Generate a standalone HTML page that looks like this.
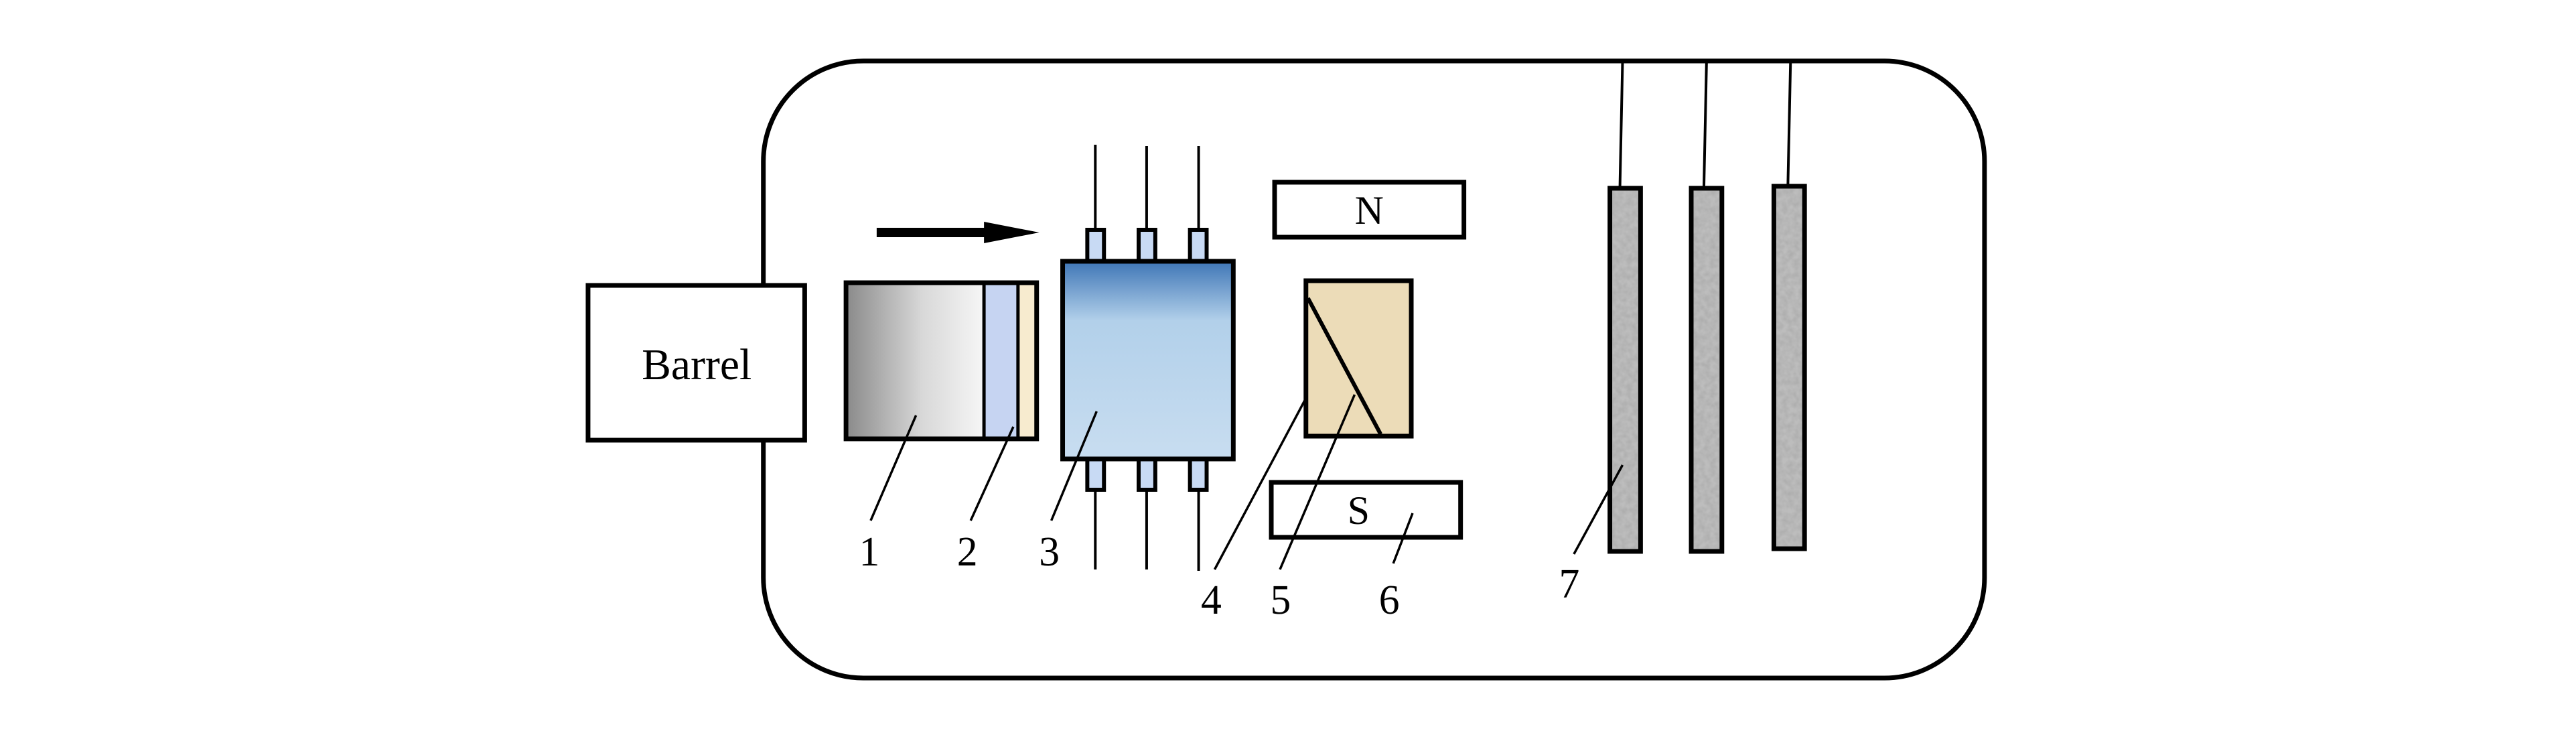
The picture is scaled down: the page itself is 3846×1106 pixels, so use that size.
<!DOCTYPE html>
<html><head><meta charset="utf-8"><style>html,body{margin:0;padding:0;background:#fff}svg{display:block}</style></head><body>
<svg width="3846" height="1106" viewBox="0 0 3846 1106" xmlns="http://www.w3.org/2000/svg">
<defs>
<linearGradient id="g1" x1="0" x2="1" y1="0" y2="0"><stop offset="0" stop-color="#8a8a8a"/><stop offset="0.55" stop-color="#d8d8d8"/><stop offset="1" stop-color="#f6f6f6"/></linearGradient>
<linearGradient id="g3" x1="0" x2="0" y1="0" y2="1"><stop offset="0" stop-color="#3f76b6"/><stop offset="0.3" stop-color="#b2d0ea"/><stop offset="1" stop-color="#c8ddf0"/></linearGradient>
<filter id="noise" x="0" y="0" width="100%" height="100%"><feTurbulence type="fractalNoise" baseFrequency="0.12" numOctaves="2" seed="3"/><feColorMatrix type="matrix" values="0 0 0 0 0.42  0 0 0 0 0.42  0 0 0 0 0.42  0 0 0 -1.6 1.2"/></filter>
</defs>
<g transform="matrix(0.9952,0,0,1,-0.8,0)">
<rect x="1146" y="91" width="1832" height="921" rx="150" ry="150" fill="none" stroke="#000" stroke-width="7"/>
<rect x="883" y="426" width="325" height="231" fill="#fff" stroke="#000" stroke-width="7"/>
<text x="1046" y="566" font-family="Liberation Serif, serif" font-size="66" text-anchor="middle">Barrel</text>
<rect x="1270" y="422" width="207" height="233" fill="url(#g1)"/>
<rect x="1477" y="422" width="51" height="233" fill="#c6d4f2"/>
<rect x="1528" y="422" width="28" height="233" fill="#f7ebcf"/>
<line x1="1477" y1="422" x2="1477" y2="655" stroke="#000" stroke-width="5"/>
<line x1="1528" y1="422" x2="1528" y2="655" stroke="#000" stroke-width="5"/>
<rect x="1270" y="422" width="286" height="233" fill="none" stroke="#000" stroke-width="7"/>
<rect x="1316" y="340" width="165" height="14" fill="#000"/>
<polygon points="1477,331 1560,347 1477,363" fill="#000"/>
<g stroke="#000" stroke-width="4">
<line x1="1644" y1="216" x2="1644" y2="343"/><line x1="1721" y1="218" x2="1721" y2="343"/><line x1="1799" y1="218" x2="1799" y2="343"/>
<line x1="1644" y1="731" x2="1644" y2="850"/><line x1="1721" y1="731" x2="1721" y2="850"/><line x1="1799" y1="731" x2="1799" y2="852"/>
</g>
<g fill="#c8daf4" stroke="#000" stroke-width="6">
<rect x="1632" y="343" width="25" height="47"/><rect x="1709" y="343" width="25" height="47"/><rect x="1786" y="343" width="25" height="47"/>
<rect x="1632" y="685" width="25" height="46"/><rect x="1709" y="685" width="25" height="46"/><rect x="1786" y="685" width="25" height="46"/>
</g>
<rect x="1595" y="390" width="256" height="295" fill="url(#g3)" stroke="#000" stroke-width="7"/>
<rect x="1913" y="272" width="284" height="82" fill="#fff" stroke="#000" stroke-width="7"/>
<text x="2055" y="334" font-family="Liberation Serif, serif" font-size="60" text-anchor="middle">N</text>
<rect x="1908" y="720" width="284" height="82" fill="#fff" stroke="#000" stroke-width="7"/>
<text x="2039" y="782" font-family="Liberation Serif, serif" font-size="60" text-anchor="middle">S</text>
<rect x="1960" y="419" width="158" height="232" fill="#ecdcb8" stroke="#000" stroke-width="7"/>
<line x1="1963" y1="445" x2="2072" y2="648" stroke="#000" stroke-width="6"/>
<g stroke="#000" stroke-width="4">
<line x1="2435" y1="91" x2="2431" y2="281"/><line x1="2561" y1="91" x2="2557" y2="281"/><line x1="2687" y1="91" x2="2683" y2="278"/>
</g>
<g stroke="#000" stroke-width="7">
<rect x="2416" y="281" width="46" height="542" fill="#bdbdbd"/>
<rect x="2538" y="281" width="46" height="542" fill="#bdbdbd"/>
<rect x="2662" y="278" width="46" height="541" fill="#bdbdbd"/>
</g>
<rect x="2420" y="285" width="38" height="534" filter="url(#noise)"/>
<rect x="2542" y="285" width="38" height="534" filter="url(#noise)"/>
<rect x="2666" y="282" width="38" height="533" filter="url(#noise)"/>
<g stroke="#000" stroke-width="3.5">
<line x1="1307" y1="777" x2="1375" y2="620"/>
<line x1="1457" y1="777" x2="1521" y2="637"/>
<line x1="1578" y1="777" x2="1646" y2="614"/>
<line x1="1823" y1="850" x2="1958" y2="598"/>
<line x1="1921" y1="850" x2="2033" y2="589"/>
<line x1="2091" y1="841" x2="2120" y2="766"/>
<line x1="2362" y1="827" x2="2435" y2="694"/>
</g>
<g font-family="Liberation Serif, serif" font-size="62" text-anchor="middle">
<text x="1305" y="844">1</text><text x="1452" y="844">2</text><text x="1575" y="844">3</text>
<text x="1818" y="916">4</text><text x="1922" y="916">5</text><text x="2085" y="916">6</text>
<text x="2355" y="892">7</text>
</g>
</g>
</svg>
</body></html>
